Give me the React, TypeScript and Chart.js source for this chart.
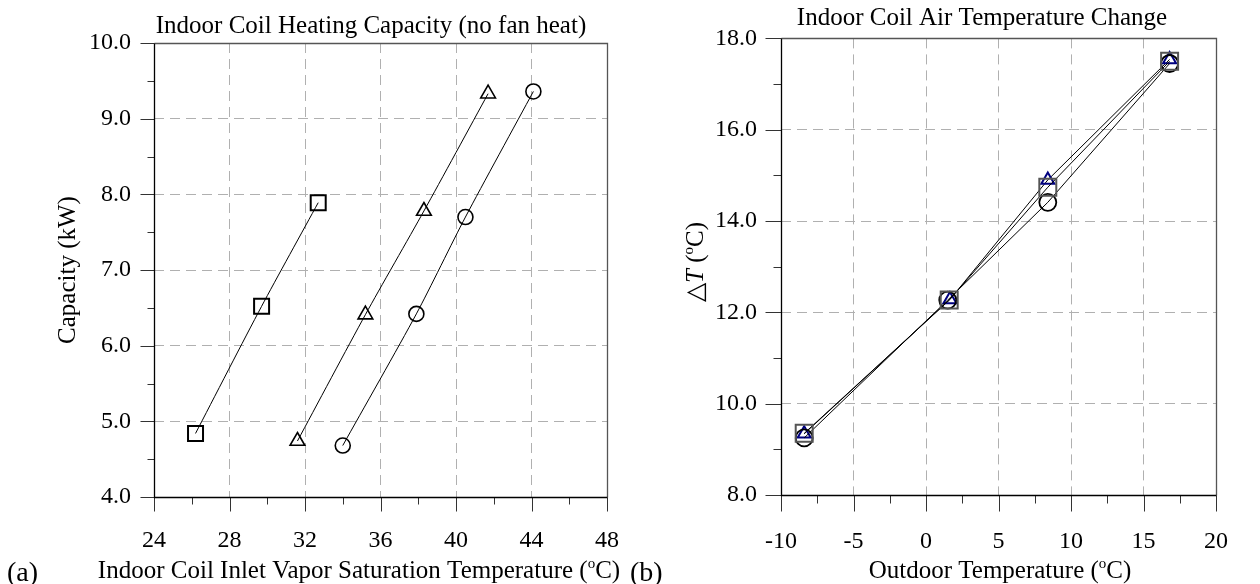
import React, { useEffect, useRef } from 'react';
import { Chart, registerables } from 'chart.js';
Chart.register(...registerables);

const FONT = '"Liberation Serif", "Times New Roman", serif';

// ---------- Chart (a): Indoor Coil Heating Capacity ----------
const capXTicks = [24, 28, 32, 36, 40, 44, 48];
const capYTicks = [4, 5, 6, 7, 8, 9, 10];
const squareSatTemp = [26.2, 29.7, 32.7];
const squareCapacity = [4.84, 6.52, 7.89];
const triangleSatTemp = [31.6, 35.2, 38.3, 41.7];
const triangleCapacity = [4.74, 6.41, 7.78, 9.33];
const circleSatTemp = [34.0, 37.9, 40.5, 44.1];
const circleCapacity = [4.68, 6.42, 7.70, 9.36];

// ---------- Chart (b): Indoor Coil Air Temperature Change ----------
const outdoorXTicks = [-10, -5, 0, 5, 10, 15, 20];
const dtYTicks = [8, 10, 12, 14, 16, 18];
const squareOutdoor = [-8.4, 1.6, 8.4, 16.8];
const squareDT = [9.35, 12.27, 14.74, 17.5];
const circleOutdoor = [-8.4, 1.5, 8.4, 16.8];
const circleDT = [9.25, 12.27, 14.41, 17.45];
const triangleOutdoor = [-8.4, 1.65, 8.4, 16.8];
const triangleDT = [9.34, 12.28, 14.9, 17.54];

const TICK_SIZE = 24;
const TITLE_SIZE = 25;

type Part = { t: string; italic?: boolean; sup?: boolean };

function drawRich(
  ctx: CanvasRenderingContext2D,
  parts: Part[],
  x: number,
  y: number,
  size: number,
  align: 'center' | 'left',
  rotate = false
) {
  ctx.save();
  ctx.translate(x, y);
  if (rotate) ctx.rotate(-Math.PI / 2);
  const fontFor = (p: Part) =>
    `${p.italic ? 'italic ' : ''}${p.sup ? Math.round(size * 0.6) : size}px ${FONT}`;
  let total = 0;
  const widths = parts.map((p) => {
    ctx.font = fontFor(p);
    const w = ctx.measureText(p.t).width;
    total += w;
    return w;
  });
  let cx = align === 'center' ? -total / 2 : 0;
  const base = rotate ? size * 0.33 : 0;
  ctx.textBaseline = 'alphabetic';
  ctx.textAlign = 'left';
  ctx.fillStyle = '#000';
  parts.forEach((p, i) => {
    ctx.font = fontFor(p);
    ctx.fillText(p.t, cx, base + (p.sup ? -size * 0.4 : 0));
    cx += widths[i];
  });
  ctx.restore();
}

type Deco = {
  title: Part[];
  titleX: number;
  titleY: number;
  xTitle: Part[];
  xTitleX: number;
  xTitleY: number;
  yTitle: Part[];
  yTitleX: number;
  yTitleY: number;
  majorLen: number;
  minorLen: number;
  extra?: { parts: Part[]; x: number; y: number; size: number }[];
};

function decoPlugin(d: Deco) {
  return {
    id: 'deco',
    afterDraw(chart: any) {
      const { ctx, chartArea: a, scales } = chart;
      const xs = scales.x;
      const ys = scales.y;
      const xv: number[] = xs.ticks.map((t: any) => t.value);
      const yv: number[] = ys.ticks.map((t: any) => t.value);
      const mids = (v: number[]) => v.slice(1).map((u, i) => (u + v[i]) / 2);
      ctx.save();
      ctx.lineWidth = 1;
      ctx.strokeStyle = '#333';
      ctx.beginPath();
      const bottom = Math.round(a.bottom) + 0.5;
      const left = Math.round(a.left) + 0.5;
      xv.forEach((v) => {
        const p = Math.round(xs.getPixelForValue(v)) + 0.5;
        ctx.moveTo(p, bottom);
        ctx.lineTo(p, bottom + d.majorLen);
      });
      mids(xv).forEach((v) => {
        const p = Math.round(xs.getPixelForValue(v)) + 0.5;
        ctx.moveTo(p, bottom);
        ctx.lineTo(p, bottom + d.minorLen);
      });
      yv.forEach((v) => {
        const p = Math.round(ys.getPixelForValue(v)) + 0.5;
        ctx.moveTo(left - d.majorLen, p);
        ctx.lineTo(left, p);
      });
      mids(yv).forEach((v) => {
        const p = Math.round(ys.getPixelForValue(v)) + 0.5;
        ctx.moveTo(left - d.minorLen, p);
        ctx.lineTo(left, p);
      });
      ctx.stroke();
      // frame
      const top = Math.round(a.top) + 0.5;
      const right = Math.round(a.right) + 0.5;
      ctx.lineWidth = 1.3;
      ctx.strokeStyle = '#555';
      ctx.beginPath();
      ctx.moveTo(left, top);
      ctx.lineTo(right, top);
      ctx.lineTo(right, bottom);
      ctx.stroke();
      ctx.strokeStyle = '#000';
      ctx.beginPath();
      ctx.moveTo(left, top);
      ctx.lineTo(left, bottom);
      ctx.lineTo(right, bottom);
      ctx.stroke();
      // texts
      drawRich(ctx, d.title, d.titleX, d.titleY, TITLE_SIZE, 'center');
      drawRich(ctx, d.xTitle, d.xTitleX, d.xTitleY, TITLE_SIZE, 'center');
      drawRich(ctx, d.yTitle, d.yTitleX, d.yTitleY, TITLE_SIZE, 'center', true);
      (d.extra || []).forEach((e) => drawRich(ctx, e.parts, e.x, e.y, e.size, 'left'));
      ctx.restore();
    },
  };
}

function linScale(
  ticks: number[],
  size: number,
  horizontal: boolean,
  padding: number,
  fmt: (v: number) => string
) {
  return {
    type: 'linear',
    min: ticks[0],
    max: ticks[ticks.length - 1],
    afterBuildTicks: (s: any) => {
      s.ticks = ticks.map((v) => ({ value: v }));
    },
    afterFit: (s: any) => {
      if (horizontal) s.height = size;
      else s.width = size;
    },
    ticks: {
      autoSkip: false,
      maxRotation: 0,
      padding,
      color: '#000',
      font: { family: FONT, size: TICK_SIZE },
      callback: (v: any) => fmt(Number(v)),
    },
    grid: {
      color: '#b0b0b0',
      lineWidth: 1,
      drawTicks: false,
      borderDash: [10, 6],
    },
    border: { display: false, dash: [10, 6] },
  };
}

const pts = (xs: number[], ys: number[]) => xs.map((x, i) => ({ x, y: ys[i] }));

function buildA(): any {
  const ds = (xs: number[], ys: number[], style: string, r: number, bw: number) => ({
    data: pts(xs, ys),
    showLine: true,
    borderColor: '#000',
    borderWidth: 1,
    tension: 0.25,
    pointStyle: style,
    pointRadius: r,
    pointHoverRadius: r,
    pointBorderWidth: bw,
    pointBorderColor: '#000',
    pointBackgroundColor: 'rgba(0,0,0,0)',
  });
  return {
    type: 'scatter',
    data: {
      datasets: [
        ds(squareSatTemp, squareCapacity, 'rect', 10.6, 2),
        ds(triangleSatTemp, triangleCapacity, 'triangle', 8.5, 1.6),
        ds(circleSatTemp, circleCapacity, 'circle', 7.5, 1.6),
      ],
    },
    options: {
      responsive: false,
      animation: false,
      devicePixelRatio: 1,
      layout: { padding: { left: 0, top: 43, right: 73, bottom: 0 } },
      plugins: { legend: { display: false }, tooltip: { enabled: false }, title: { display: false } },
      scales: {
        x: linScale(capXTicks, 87, true, 29, (v) => String(v)),
        y: linScale(capYTicks, 154, false, 23, (v) => v.toFixed(1)),
      },
    },
    plugins: [
      decoPlugin({
        title: [{ t: 'Indoor Coil Heating Capacity (no fan heat)' }],
        titleX: 371,
        titleY: 33,
        xTitle: [
          { t: 'Indoor Coil Inlet Vapor Saturation Temperature (' },
          { t: 'o', sup: true },
          { t: 'C)' },
        ],
        xTitleX: 359,
        xTitleY: 578,
        yTitle: [{ t: 'Capacity (kW)' }],
        yTitleX: 67,
        yTitleY: 270,
        majorLen: 14,
        minorLen: 7,
        extra: [
          { parts: [{ t: '(a)' }], x: 7, y: 581, size: 28 },
          { parts: [{ t: '(b)' }], x: 630, y: 581, size: 28 },
        ],
      }),
    ],
  };
}

function buildB(): any {
  const ds = (
    xs: number[],
    ys: number[],
    style: string,
    r: number,
    bw: number,
    color: string
  ) => ({
    data: pts(xs, ys),
    showLine: true,
    borderColor: '#000',
    borderWidth: 1,
    tension: 0,
    pointStyle: style,
    pointRadius: r,
    pointHoverRadius: r,
    pointBorderWidth: bw,
    pointBorderColor: color,
    pointBackgroundColor: 'rgba(0,0,0,0)',
  });
  return {
    type: 'scatter',
    data: {
      datasets: [
        ds(squareOutdoor, squareDT, 'rect', 12, 2, '#555'),
        ds(circleOutdoor, circleDT, 'circle', 8.5, 1.8, '#000'),
        ds(triangleOutdoor, triangleDT, 'triangle', 7.5, 2, '#000080'),
      ],
    },
    options: {
      responsive: false,
      animation: false,
      devicePixelRatio: 1,
      layout: { padding: { left: 0, top: 35, right: 23, bottom: 0 } },
      plugins: { legend: { display: false }, tooltip: { enabled: false }, title: { display: false } },
      scales: {
        x: linScale(outdoorXTicks, 89, true, 32, (v) => String(v)),
        y: linScale(dtYTicks, 101, false, 24, (v) => v.toFixed(1)),
      },
    },
    plugins: [
      decoPlugin({
        title: [{ t: 'Indoor Coil Air Temperature Change' }],
        titleX: 302,
        titleY: 25,
        xTitle: [{ t: 'Outdoor Temperature (' }, { t: 'o', sup: true }, { t: 'C)' }],
        xTitleX: 320,
        xTitleY: 578,
        yTitle: [{ t: '\u25B3' }, { t: 'T', italic: true }, { t: ' (' }, { t: 'o', sup: true }, { t: 'C)' }],
        yTitleX: 15,
        yTitleY: 262,
        majorLen: 16,
        minorLen: 8,
      }),
    ],
  };
}

function Panel({ left, width, build }: { left: number; width: number; build: () => any }) {
  const ref = useRef<HTMLCanvasElement>(null);
  useEffect(() => {
    const chart = new Chart(ref.current as HTMLCanvasElement, build());
    return () => chart.destroy();
  }, []);
  return (
    <canvas
      ref={ref}
      width={width}
      height={584}
      style={{ position: 'absolute', left, top: 0, width, height: 584 }}
    />
  );
}

export default function App() {
  return (
    <div
      style={{
        position: 'fixed',
        left: 0,
        top: 0,
        width: 1260,
        height: 584,
        background: '#fff',
        overflow: 'hidden',
      }}
    >
      <Panel left={0} width={680} build={buildA} />
      <Panel left={680} width={580} build={buildB} />
    </div>
  );
}
